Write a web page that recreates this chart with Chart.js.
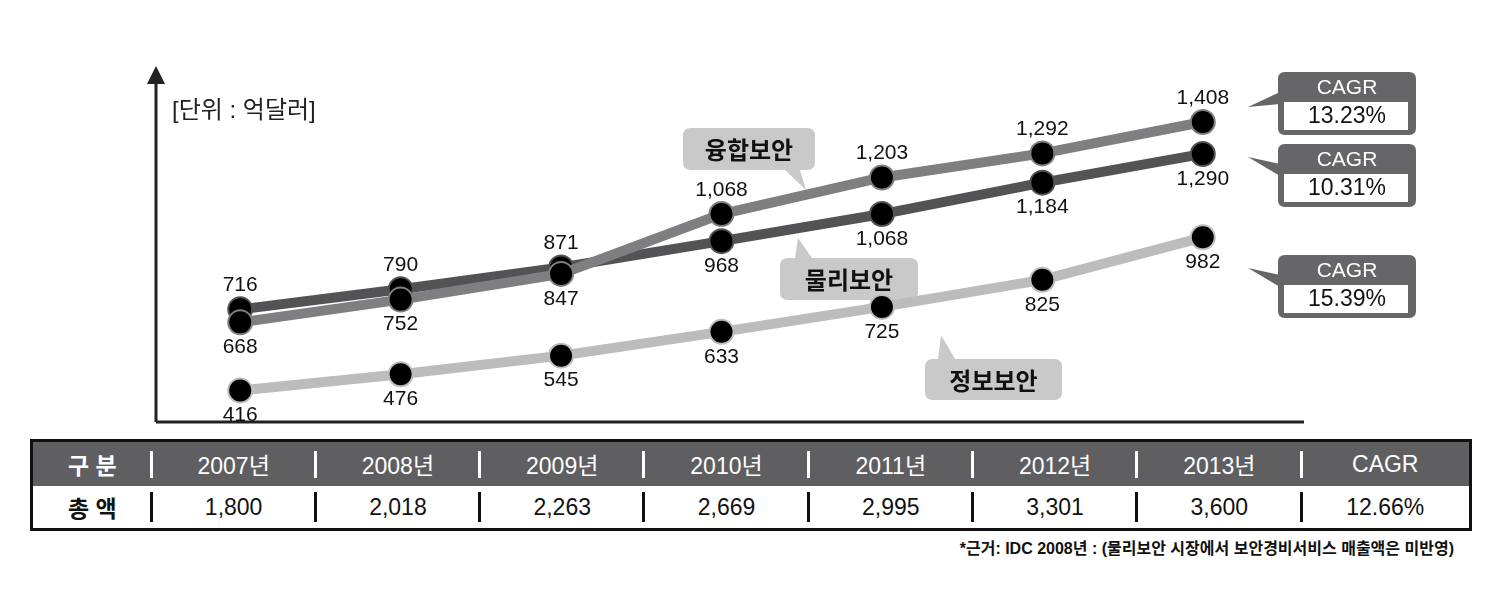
<!DOCTYPE html>
<html>
<head>
<meta charset="utf-8">
<script src="https://cdn.jsdelivr.net/npm/chart.js@4/dist/chart.umd.min.js"></script>
<style>
  body { margin: 0; width: 1500px; height: 610px; background: #fff; position: relative; overflow: hidden;
         font-family: "Liberation Sans", "Noto Sans CJK KR", sans-serif; }
  #wrap { position: absolute; left: 0; top: 0; width: 1500px; height: 436px; }
  table { position: absolute; left: 30px; top: 439px; width: 1442px; border-collapse: collapse;
          border: 3px solid #111; table-layout: fixed; }
  td { text-align: center; font-size: 23px; padding: 0; position: relative; }
  tr.head td { background: #5f5f61; color: #fff; height: 44px; }
  tr.body td { background: #fff; color: #111; height: 42px; }
  td.sep::before { content: ""; position: absolute; left: -2px; width: 3px; }
  tr.head td.sep::before { top: 9px; bottom: 8px; background: #fff; }
  tr.body td.sep::before { top: 6px; bottom: 6px; background: #111; }
  .b { font-weight: bold; }
  #note { position: absolute; right: 46px; top: 535px; font-size: 16px; font-weight: bold; color: #111; }
</style>
</head>
<body>
<div id="wrap"><canvas id="myChart" width="1500" height="436"></canvas></div>
<table id="tbl">
  <colgroup><col style="width:120px"><col span="7"><col style="width:169px"></colgroup>
  <tr class="head" id="headRow"></tr>
  <tr class="body" id="bodyRow"></tr>
</table>
<div id="note">*근거: IDC 2008년 : (물리보안 시장에서 보안경비서비스 매출액은 미반영)</div>
<script>
var years = ["2007", "2008", "2009", "2010", "2011", "2012", "2013"];
var yunghap = [668, 752, 847, 1068, 1203, 1292, 1408];   // 융합보안
var mulli = [716, 790, 871, 968, 1068, 1184, 1290];      // 물리보안
var jeongbo = [416, 476, 545, 633, 725, 825, 982];       // 정보보안
var cagrs = ["13.23%", "10.31%", "15.39%"];
var totals = [1800, 2018, 2263, 2669, 2995, 3301, 3600];
var totalCagr = "12.66%";

// which side of the dot the number goes
var sideYung = [1, 1, 1, -1, -1, -1, -1];
var sideMulli = [-1, -1, -1, 1, 1, 1, 1];
var sideJeong = [1, 1, 1, 1, 1, 1, 1];

// table
var head = '<td class="b">구 분</td>';
var body = '<td class="b">총 액</td>';
for (var i = 0; i < years.length; i++) {
  head += '<td class="sep">' + years[i] + '년</td>';
  body += '<td class="sep">' + totals[i].toLocaleString("en-US") + '</td>';
}
head += '<td class="sep">CAGR</td>';
body += '<td class="sep">' + totalCagr + '</td>';
document.getElementById("headRow").innerHTML = head;
document.getElementById("bodyRow").innerHTML = body;

function rr(ctx, x, y, w, h, r) {
  ctx.beginPath();
  ctx.moveTo(x + r, y);
  ctx.lineTo(x + w - r, y);
  ctx.quadraticCurveTo(x + w, y, x + w, y + r);
  ctx.lineTo(x + w, y + h - r);
  ctx.quadraticCurveTo(x + w, y + h, x + w - r, y + h);
  ctx.lineTo(x + r, y + h);
  ctx.quadraticCurveTo(x, y + h, x, y + h - r);
  ctx.lineTo(x, y + r);
  ctx.quadraticCurveTo(x, y, x + r, y);
  ctx.closePath();
}

var extras = {
  id: "extras",
  beforeDatasetsDraw(chart) {
    var ctx = chart.ctx;
    var a = chart.chartArea;
    ctx.save();
    ctx.strokeStyle = "#222";
    ctx.fillStyle = "#222";
    ctx.lineWidth = 3;
    ctx.beginPath();
    ctx.moveTo(156, a.bottom);
    ctx.lineTo(156, 82);
    ctx.moveTo(156, a.bottom);
    ctx.lineTo(1304, a.bottom);
    ctx.stroke();
    ctx.beginPath();
    ctx.moveTo(156, 66);
    ctx.lineTo(147, 84);
    ctx.lineTo(165, 84);
    ctx.closePath();
    ctx.fill();

    ctx.font = "24px 'Liberation Sans', 'Noto Sans CJK KR'";
    ctx.textBaseline = "middle";
    ctx.fillText("[단위 : 억달러]", 172, 111);

    // series name callouts
    var tags = [
      { t: "융합보안", x: 683, y: 128, w: 132, h: 42, tail: [[785, 170], [800, 170], [806, 190]] },
      { t: "물리보안", x: 780, y: 258, w: 138, h: 42, tail: [[795, 258], [812, 258], [798, 238]] },
      { t: "정보보안", x: 925, y: 359, w: 137, h: 41, tail: [[938, 359], [955, 359], [941, 335]] }
    ];
    tags.forEach(function (g) {
      ctx.fillStyle = "#c9c9c9";
      rr(ctx, g.x, g.y, g.w, g.h, 8);
      ctx.fill();
      ctx.beginPath();
      ctx.moveTo(g.tail[0][0], g.tail[0][1]);
      ctx.lineTo(g.tail[2][0], g.tail[2][1]);
      ctx.lineTo(g.tail[1][0], g.tail[1][1]);
      ctx.closePath();
      ctx.fill();
      ctx.fillStyle = "#111";
      ctx.font = "bold 24px 'Noto Sans CJK KR'";
      ctx.textAlign = "center";
      ctx.fillText(g.t, g.x + g.w / 2, g.y + g.h / 2 + 1);
    });

    // CAGR boxes
    var boxY = [72, 144, 255];
    var tipY = [107, 157, 268];
    boxY.forEach(function (by, k) {
      ctx.fillStyle = "#666668";
      rr(ctx, 1278, by, 138, 63, 7);
      ctx.fill();
      ctx.beginPath();
      ctx.moveTo(1280, by + 20);
      ctx.lineTo(1248, tipY[k]);
      ctx.lineTo(1280, by + 32);
      ctx.closePath();
      ctx.fill();
      ctx.fillStyle = "#fff";
      ctx.fillRect(1284, by + 30, 124, 28);
      ctx.textAlign = "center";
      ctx.font = "21px 'Liberation Sans'";
      ctx.fillText("CAGR", 1347, by + 16);
      ctx.fillStyle = "#111";
      ctx.font = "23px 'Liberation Sans'";
      ctx.fillText(cagrs[k], 1347, by + 45);
    });
    ctx.restore();
  },
  afterDatasetsDraw(chart) {
    var ctx = chart.ctx;
    var sides = [sideJeong, sideYung, sideMulli];
    ctx.save();
    ctx.fillStyle = "#111";
    ctx.font = "21px 'Liberation Sans'";
    ctx.textAlign = "center";
    ctx.textBaseline = "middle";
    chart.data.datasets.forEach(function (ds, i) {
      var meta = chart.getDatasetMeta(i);
      meta.data.forEach(function (pt, j) {
        var off = sides[i][j] > 0 ? 25 : -24;
        ctx.fillText(ds.data[j].toLocaleString("en-US"), pt.x, pt.y + off);
      });
    });
    ctx.restore();
  }
};

var ctx = document.getElementById("myChart");
var myChart = new Chart(ctx, {
  type: "line",
  data: {
    labels: years,
    datasets: [
      { label: "정보보안", data: jeongbo, borderColor: "#bcbcbc" },
      { label: "융합보안", data: yunghap, borderColor: "#7f7f81" },
      { label: "물리보안", data: mulli, borderColor: "#535355" }
    ]
  },
  options: {
    responsive: false,
    animation: false,
    layout: { padding: { left: 160, right: 217, top: 70, bottom: 4 } },
    elements: {
      line: { borderWidth: 10, tension: 0 },
      point: { radius: 12, backgroundColor: "#000", borderColor: "#8a8a8a", borderWidth: 2 }
    },
    scales: {
      x: { display: false, offset: true },
      y: { display: false, min: 300, max: 1600 }
    },
    plugins: { legend: { display: false }, tooltip: { enabled: false } }
  },
  plugins: [extras]
});
</script>
</body>
</html>
